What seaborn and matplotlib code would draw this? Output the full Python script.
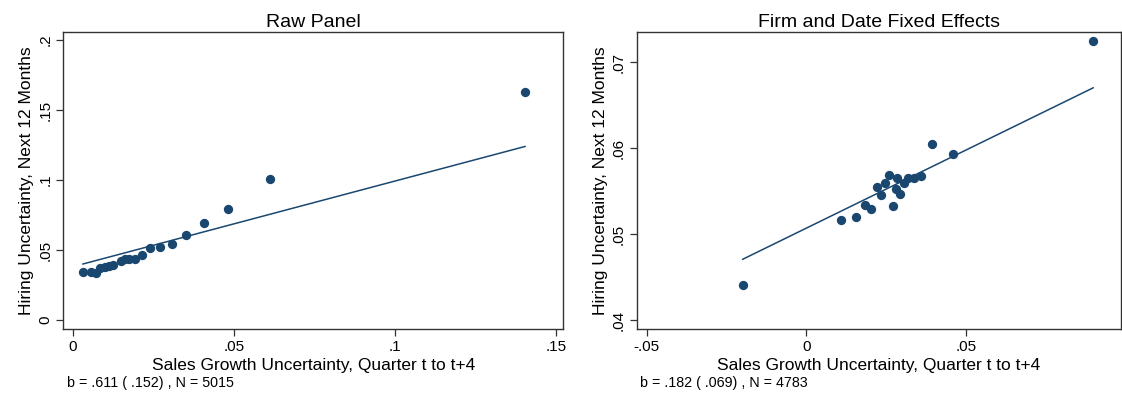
import matplotlib
matplotlib.use("Agg")
import matplotlib.pyplot as plt
import seaborn as sns
import numpy as np
import pandas as pd

# ---- data ----
raw_x = [0.0030, 0.0056, 0.0072, 0.0085, 0.0098, 0.0111, 0.0123, 0.0150, 0.0162, 0.0175,
         0.0191, 0.0214, 0.0240, 0.0269, 0.0306, 0.0350, 0.0407, 0.0480, 0.0613, 0.1405]
raw_y = [0.0341, 0.0345, 0.0336, 0.0369, 0.0381, 0.0386, 0.0391, 0.0421, 0.0436, 0.0434,
         0.0434, 0.0464, 0.0512, 0.0521, 0.0543, 0.0605, 0.0691, 0.0795, 0.1007, 0.1629]
raw_fit = [0.0382, 0.611]  # intercept, slope

fe_x = [-0.0200, 0.0107, 0.0156, 0.0182, 0.0203, 0.0221, 0.0233, 0.0245, 0.0257, 0.0269,
        0.0279, 0.0283, 0.0292, 0.0304, 0.0318, 0.0335, 0.0359, 0.0394, 0.0458, 0.0897]
fe_y = [0.04407, 0.05166, 0.0520, 0.05337, 0.0529, 0.05547, 0.05457, 0.0560, 0.0569, 0.0533,
        0.0553, 0.05655, 0.05465, 0.0559, 0.05655, 0.05655, 0.05678, 0.06047, 0.05927, 0.07244]
fe_fit = [0.0507, 0.182]

titles = ["Raw Panel", "Firm and Date Fixed Effects"]
notes = ["b = .611 ( .152) , N = 5015", "b = .182 ( .069) , N = 4783"]
xlabel = "Sales Growth Uncertainty, Quarter t to t+4"
ylabel = "Hiring Uncertainty, Next 12 Months"

raw_xticks = [0, 0.05, 0.1, 0.15]
raw_xticklabels = ["0", ".05", ".1", ".15"]
raw_yticks = [0, 0.05, 0.1, 0.15, 0.2]
raw_yticklabels = ["0", ".05", ".1", ".15", ".2"]
fe_xticks = [-0.05, 0, 0.05]
fe_xticklabels = ["-.05", "0", ".05"]
fe_yticks = [0.04, 0.05, 0.06, 0.07]
fe_yticklabels = [".04", ".05", ".06", ".07"]

# ---- style ----
sns.set_theme(style="white")
plt.rcParams['font.family'] = ['Liberation Sans', 'DejaVu Sans']
plt.rcParams['text.color'] = 'black'
plt.rcParams['axes.labelcolor'] = 'black'
plt.rcParams['xtick.color'] = 'black'
plt.rcParams['ytick.color'] = 'black'
color = "#1a476f"

fig = plt.figure(figsize=(11.22, 3.96), dpi=100)
ax1 = fig.add_axes([0.0565, 0.169, 0.4455, 0.750])
ax2 = fig.add_axes([0.5677, 0.169, 0.4313, 0.750])

panels = [
    (ax1, raw_x, raw_y, raw_fit, raw_xticks, raw_xticklabels, raw_yticks, raw_yticklabels,
     (-0.003, 0.1523), (-0.0064, 0.2057)),
    (ax2, fe_x, fe_y, fe_fit, fe_xticks, fe_xticklabels, fe_yticks, fe_yticklabels,
     (-0.053, 0.0983), (0.03895, 0.0735)),
]

for i, (ax, x, y, fit, xt, xtl, yt, ytl, xl, yl) in enumerate(panels):
    df = pd.DataFrame({"x": x, "y": y})
    sns.scatterplot(data=df, x="x", y="y", ax=ax, color=color, s=45, linewidth=0, zorder=3)
    lx = np.array([min(x), max(x)])
    ly = fit[0] + fit[1] * lx
    sns.lineplot(x=lx, y=ly, ax=ax, color=color, linewidth=1.1, zorder=2)
    ax.set_xlim(*xl)
    ax.set_ylim(*yl)
    ax.set_xticks(xt)
    ax.set_xticklabels(xtl)
    ax.set_yticks(yt)
    ax.set_yticklabels(ytl, rotation=90, va="center")
    ax.tick_params(axis="both", which="major", direction="out", length=5, width=0.9,
                   color="#333333", labelcolor="black", labelsize=11, pad=3,
                   bottom=True, left=True)
    for sp in ax.spines.values():
        sp.set_color("#333333")
        sp.set_linewidth(1.0)
    ax.set_title(titles[i], fontsize=14, pad=4, color="black")
    ax.set_xlabel(xlabel, fontsize=12.5, labelpad=2.5, color="black")
    ax.set_ylabel(ylabel, fontsize=12.5, labelpad=3, color="black")
    ax.text(0.007, -0.181, notes[i], transform=ax.transAxes, fontsize=10.3,
            ha="left", va="center", color="black")

fig.savefig("out.png", dpi=100, facecolor="white")
